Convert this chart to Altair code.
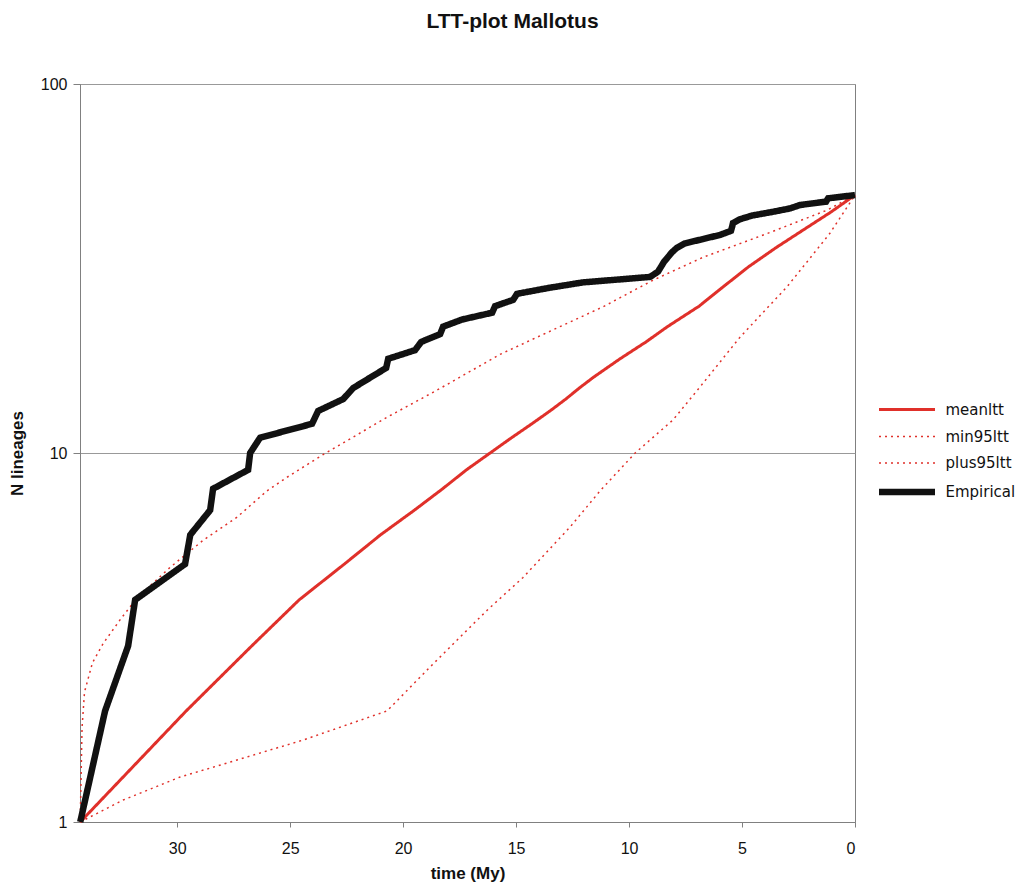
import altair as alt
import pandas as pd

# ---- data ----
series_order = ["meanltt", "min95ltt", "plus95ltt", "Empirical"]

emp_time = [34.29, 33.19, 32.17, 31.86, 29.65, 29.42, 28.54, 28.41, 26.86, 26.77,
            26.33, 24.03, 23.76, 22.65, 22.21, 21.46, 20.75, 20.66, 19.47, 19.20,
            18.36, 18.23, 17.39, 16.06, 15.93, 15.13, 14.96, 13.58, 12.04, 9.07,
            8.72, 8.58, 8.45, 8.27, 8.10, 7.88, 7.52, 6.73, 5.97, 5.49,
            5.44, 5.40, 5.09, 4.56, 3.67, 2.88, 2.43, 1.28, 1.19, 0.0]
emp_n = list(range(1, 51))

mean_time = [34.29, 29.6, 26.7, 24.6, 22.6, 21.0, 19.5, 18.25, 17.2, 16.15, 15.2, 14.3,
             13.5, 12.8, 12.2, 11.6, 10.4, 9.25, 8.3, 6.9, 5.9, 4.7, 3.5, 2.35, 1.06, 0.0]
mean_n = [1, 2, 3, 4, 5, 6, 7, 8, 9, 10, 11, 12, 13, 14, 15, 16, 18, 20, 22, 25, 28, 32,
          36, 40, 45, 50]

min95_time = [34.29, 32.39, 29.87, 27.79, 24.42, 20.71, 18.81, 16.28, 14.69, 12.61,
              11.28, 9.73, 8.05, 6.86, 5.09, 3.01, 1.11, 0.0]
min95_n = [1, 1.147, 1.324, 1.445, 1.668, 2.0, 2.63, 3.75, 4.6, 6.3, 7.9, 10, 12.3,
           15.1, 20.6, 28.2, 39.4, 50]

plus95_time = [34.29, 34.21, 34.10, 33.75, 33.27, 32.5, 31.77, 30.31, 28.85, 27.35,
               26.02, 25.13, 23.54, 22.26, 20.71, 18.5, 15.71, 14.07, 11.15, 8.94,
               6.73, 3.76, 1.24, 0.0]
plus95_n = [1, 1.8, 2.25, 2.7, 3.05, 3.55, 4.05, 4.9, 5.8, 6.7, 7.9, 8.6, 9.9, 11.0,
            12.5, 14.8, 18.5, 20.6, 24.9, 29.4, 33.9, 39.6, 45.5, 50]

x_ticks = [0, 5, 10, 15, 20, 25, 30]
y_ticks = [1, 10, 100]

rows = []
for name, ts, ns in [("meanltt", mean_time, mean_n),
                     ("min95ltt", min95_time, min95_n),
                     ("plus95ltt", plus95_time, plus95_n),
                     ("Empirical", emp_time, emp_n)]:
    for t, n in zip(ts, ns):
        rows.append({"series": name, "time": t, "n": n})
df = pd.DataFrame(rows)

RED = "#e0302a"
AX = "#808080"
TICK_FONT = "Liberation Sans"

leg = dict(title=None, orient="none", legendX=799, legendY=310)

base = alt.Chart(df).mark_line(strokeCap="butt", strokeJoin="miter").encode(
    x=alt.X("time:Q",
            scale=alt.Scale(domain=[0, 34.3], reverse=True, nice=False, zero=False),
            axis=alt.Axis(values=x_ticks, title="time (My)", grid=False,
                          tickSize=5, labelPadding=13, titlePadding=9)),
    y=alt.Y("n:Q",
            scale=alt.Scale(type="log", domain=[1, 100], nice=False),
            axis=alt.Axis(values=y_ticks, format="d", title="N lineages", grid=True,
                          tickSize=7, labelPadding=6, titlePadding=14)),
    color=alt.Color("series:N",
                    scale=alt.Scale(domain=series_order, range=[RED, RED, RED, "#111111"]),
                    legend=alt.Legend(**leg)),
    strokeDash=alt.StrokeDash("series:N",
                              scale=alt.Scale(domain=series_order,
                                              range=[[1, 0], [2, 4], [2, 4], [1, 0]]),
                              legend=alt.Legend(**leg)),
    strokeWidth=alt.StrokeWidth("series:N",
                                scale=alt.Scale(type="ordinal", domain=series_order,
                                                range=[3, 1.5, 1.5, 6.5]),
                                legend=alt.Legend(**leg)),
)

red_layer = base.transform_filter(alt.datum.series != "Empirical")
black_layer = base.transform_filter(alt.datum.series == "Empirical")

chart = alt.layer(red_layer, black_layer).properties(
    width=775,
    height=738,
    autosize=alt.AutoSizeParams(type="none"),
    padding={"left": 72, "top": 76, "right": 161, "bottom": 61},
    title=alt.TitleParams("LTT-plot Mallotus", font="Liberation Sans", fontSize=21,
                          fontWeight="bold", color="#111111", anchor="middle",
                          dx=45, offset=44),
).configure_view(
    stroke=AX, strokeWidth=1
).configure_axis(
    domainColor=AX, tickColor=AX, gridColor="#999999", gridWidth=1,
    labelFont=TICK_FONT, labelFontSize=16, labelColor="#111111",
    titleFont="Liberation Sans", titleFontSize=17, titleFontWeight="bold",
    titleColor="#111111"
).configure_legend(
    symbolType="M-2,0H2", symbolSize=784, symbolOffset=10.5,
    labelFont="DejaVu Sans", labelFontSize=15, labelColor="#111111",
    padding=0, rowPadding=3.5, labelOffset=21, columns=1
)

chart.save("out.html", embed_options={"renderer": "svg", "actions": False})
